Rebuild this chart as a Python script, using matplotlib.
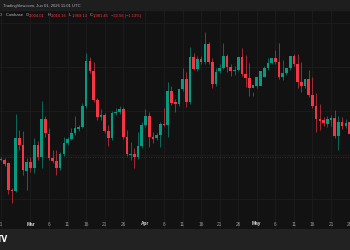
import matplotlib
matplotlib.use("Agg")
import matplotlib.pyplot as plt
import matplotlib.transforms as mtransforms

# ---- data (daily candles, Feb 21 -> May 26) ----
opens = [1931, 1930, 1924, 1870, 1868, 1974, 1960, 1908, 1926, 1914, 1960, 1936, 2012, 1982, 1934, 1928,
         1914, 1942, 1964, 1972, 1984, 1992, 1996, 2038, 2128, 2108, 2050, 2016, 2020, 1988, 1974, 2024,
         2026, 2032, 1976, 1940, 1942, 1936, 1958, 2000, 2018, 1976, 1974, 1980, 2002, 2000, 2068, 2046,
         2042, 2072, 2092, 2046, 2136, 2112, 2132, 2126, 2162, 2126, 2082, 2108, 2114, 2138, 2116, 2108,
         2110, 2136, 2102, 2094, 2074, 2078, 2078, 2096, 2114, 2124, 2134, 2126, 2096, 2104, 2114, 2138,
         2122, 2086, 2078, 2092, 2060, 2038, 2012, 2011, 2002, 2010, 2014, 1978, 2006, 1998, 2006]
highs = [1936, 1934, 1926, 1874, 2022, 1990, 1988, 1934, 1936, 1974, 1968, 2048, 2018, 1994, 1950, 1950,
         1946, 1976, 1976, 1994, 2018, 2000, 2044, 2144, 2136, 2126, 2054, 2032, 2024, 2000, 2028, 2034,
         2038, 2036, 1990, 1966, 1954, 1986, 2006, 2032, 2026, 1986, 1984, 2006, 2034, 2086, 2078, 2052,
         2050, 2114, 2106, 2156, 2144, 2138, 2138, 2186, 2166, 2134, 2114, 2122, 2164, 2142, 2122, 2118,
         2118, 2154, 2140, 2124, 2058, 2086, 2100, 2118, 2134, 2130, 2150, 2164, 2130, 2110, 2122, 2142,
         2142, 2126, 2090, 2110, 2096, 2064, 2042, 2016, 2018, 2020, 2030, 2018, 2016, 2012, 2010]
lows = [1928, 1918, 1862, 1844, 1866, 1950, 1900, 1870, 1906, 1904, 1930, 1914, 1976, 1930, 1924, 1900,
        1910, 1938, 1960, 1970, 1980, 1988, 1994, 2034, 2104, 2046, 2010, 2010, 1984, 1958, 1970, 2020,
        2022, 1972, 1938, 1930, 1914, 1932, 1954, 1996, 1956, 1964, 1970, 1956, 1998, 1976, 2040, 2026,
        2038, 2068, 2036, 2042, 2110, 2108, 2122, 2122, 2122, 2074, 2078, 2104, 2112, 2106, 2098, 2100,
        2108, 2098, 2076, 2058, 2066, 2074, 2092, 2106, 2110, 2122, 2122, 2092, 2090, 2100, 2110, 2118,
        2074, 2066, 2074, 2056, 2034, 1986, 1990, 1998, 1996, 1998, 1974, 1950, 1992, 1994, 1978]
closes = [1932, 1922, 1870, 1869, 1974, 1960, 1910, 1926, 1914, 1960, 1936, 2012, 1984, 1934, 1928, 1914,
          1942, 1964, 1972, 1984, 1994, 1996, 2038, 2128, 2108, 2050, 2016, 2020, 1988, 1974, 2024, 2026,
          2032, 1976, 1942, 1942, 1936, 1958, 2000, 2018, 1976, 1972, 1980, 2002, 2000, 2068, 2044, 2042,
          2072, 2092, 2046, 2136, 2112, 2132, 2126, 2162, 2126, 2082, 2106, 2114, 2138, 2116, 2108, 2111,
          2136, 2102, 2094, 2074, 2080, 2096, 2108, 2114, 2124, 2134, 2126, 2096, 2104, 2114, 2138, 2122,
          2086, 2078, 2092, 2060, 2038, 2012, 2008, 2004, 2012, 2014, 1978, 2006, 1998, 2004, 1982]

tick_pos = [0, 8, 13, 18, 23, 28, 33, 39, 44, 49, 54, 59, 64, 69, 74, 79, 84, 89, 94]
tick_labels = ["21", "Mar", "6", "11", "16", "21", "26", "Apr", "6", "11", "16", "21", "26",
               "May", "6", "11", "16", "21", "26"]
ref_line = 1936.6

hgrid = [2204, 2116, 2028, 1940, 1852]

UP = "#089981"
DOWN = "#f23645"
BG = "#121212"
FONT = ["Liberation Sans", "DejaVu Sans"]

W, H = 350, 250
fig = plt.figure(figsize=(3.5, 2.5), dpi=100, facecolor="#222222")

# header band
fig.patches.append(plt.Rectangle((0, 1 - 10 / H), 1, 10 / H, transform=fig.transFigure,
                                 color="#1e1e1e", zorder=0))
ax = fig.add_axes([0, 21 / H, 1, 219 / H])
ax.set_facecolor(BG)
for s in ax.spines.values():
    s.set_visible(False)
ax.set_xticks([])
ax.set_yticks([])

n = len(opens)
xs = list(range(n))
for x in tick_pos:
    ax.axvline(x, color="#1d1d1d", lw=0.6, zorder=0)
for y in hgrid:
    ax.axhline(y, color="#1d1d1d", lw=0.6, zorder=0)

ax.axhline(ref_line, color="#5c1f24", lw=0.7, ls=(0, (1, 1.5)), zorder=1)

for i in xs:
    o, h, l, c = opens[i], highs[i], lows[i], closes[i]
    col = UP if c >= o else DOWN
    ax.vlines(i, l, h, color=col, lw=0.6, alpha=0.75, zorder=2)
    body = abs(c - o)
    if body < 1.2:
        body = 1.2
    ax.bar(i, body, bottom=min(o, c), width=0.72, color=col, lw=0, zorder=3)

ax.set_xlim(-0.216, 94.12)
ax.set_ylim(1792, 2230)

trans = mtransforms.blended_transform_factory(ax.transData, ax.transAxes)
for p, lab in zip(tick_pos, tick_labels):
    bold = lab in ("Mar", "Apr", "May")
    ax.text(p, (229 - 224) / 219, lab, transform=trans, ha="center", va="center",
            fontsize=3.4, family=FONT, color="#d1d4dc" if bold else "#9598a1",
            fontweight="bold" if bold else "normal")

# header texts
FS = 3.0
fig.text(3 / W, 1 - 5.5 / H, "TradingView.com, Jun 01, 2026 11:01 UTC", fontsize=FS,
         family=FONT, color="#b2b5be", va="center", ha="left")
yl = 1 - 15.5 / H
fig.text(-1 / W, yl, "D \u00b7 Coinbase", fontsize=FS, family=FONT, color="#b2b5be", va="center")
parts = [(25.5, 29.0, "O", "2,004.01"), (47.5, 50.8, "H", "2,016.16"),
         (69.0, 71.6, "L", "1,969.13"), (89.5, 92.8, "C", "1,981.45")]
for px, vx, k, v in parts:
    fig.text(px / W, yl, k, fontsize=FS, family=FONT, color="#b2b5be", va="center")
    fig.text(vx / W, yl, v, fontsize=FS, family=FONT, color=DOWN, va="center")
fig.text(111 / W, yl, "\u221222.56 (\u22121.13%)", fontsize=FS, family=FONT, color=DOWN,
         va="center")

# logo fragment
fig.text(-3.5 / W, 10 / H, "TV", fontsize=5.5, color="#ffffff", fontweight="bold",
         va="center", ha="left")

fig.savefig("out.png", dpi=100, facecolor=fig.get_facecolor())
